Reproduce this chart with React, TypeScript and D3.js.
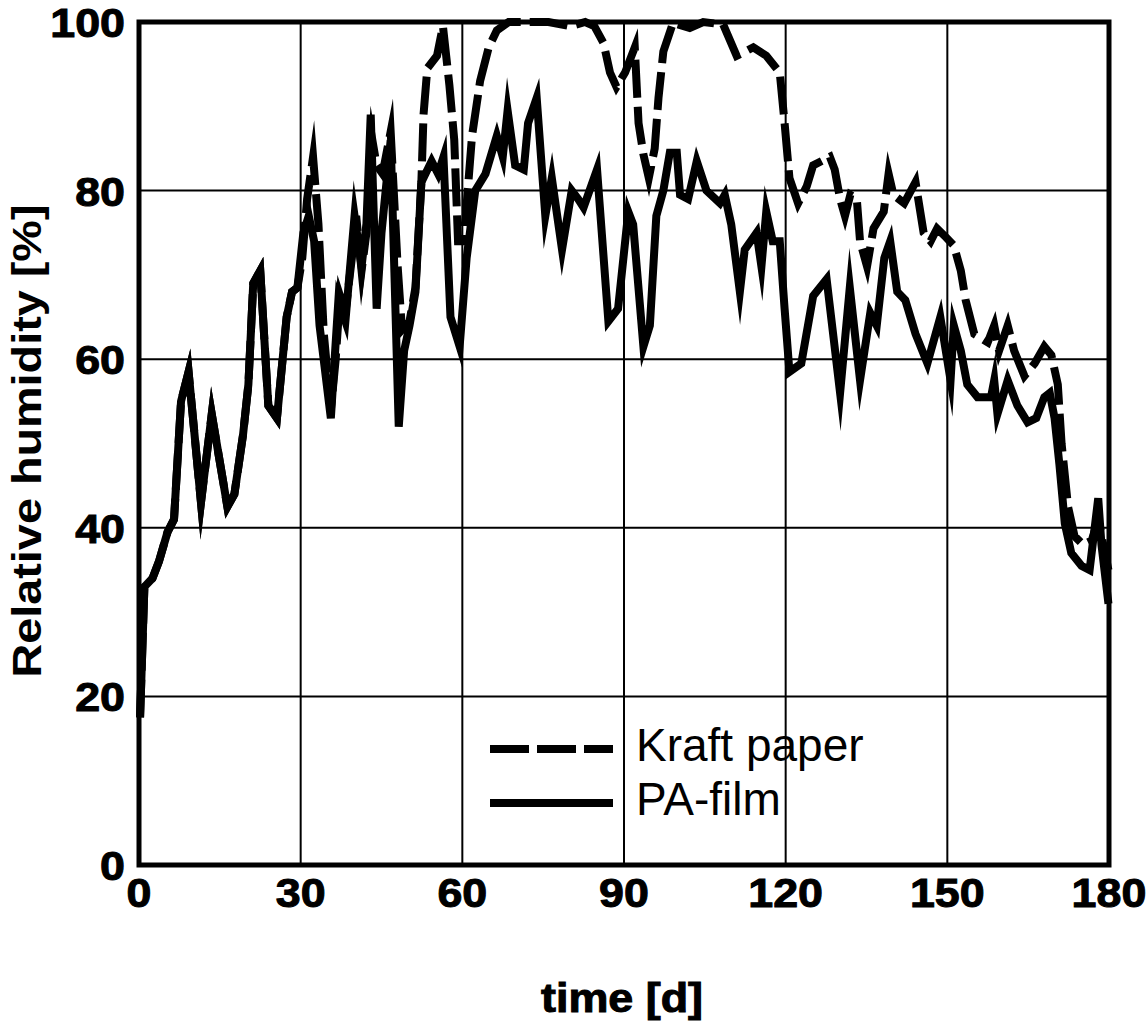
import React from 'react';
import * as d3 from 'd3';

// tick values
const xTicks = [0, 30, 60, 90, 120, 150, 180];
const yTicks = [0, 20, 40, 60, 80, 100];

// PA-film (solid)
const paDays = [
  0.2, 1, 2.5, 3.7, 5.3, 6.5, 7.8, 9.2, 11.5, 13.5, 16.4, 17.7, 19.3, 20.3, 21.2, 22.5, 24, 25.6, 27.4, 28.4,
  29.4, 30.5, 31.5, 32.5, 33.5, 35.6, 37, 38.3, 40, 41.3, 42.2, 43, 44.1, 45, 46.7, 48.2, 49.2, 50.2, 51.3, 52.4,
  54.3, 55.5, 56.5, 57.8, 59.5, 60.8, 62.4, 64.3, 66.4, 67.5, 68.4, 69.8, 71.4, 72.2, 73.8, 75.4, 76.6, 78.5, 80.3, 81.5,
  82.5, 85, 87.1, 88.9, 90.8, 91.7, 93.6, 94.8, 96, 97.3, 98.5, 99.8, 100.4, 101.9, 103.5, 105.3, 107.8, 108.7, 109.9, 111.5,
  112.4, 114.6, 115.5, 116.4, 117.6, 118.9, 119.8, 120.7, 122.9, 125.1, 127.6, 130.1, 131.9, 133.8, 135.7, 136.9, 138.3, 139.4, 140.7, 142.2,
  144.1, 146.3, 148.7, 150.6, 151.2, 152.5, 153.7, 155.6, 158.1, 158.7, 159.3, 161.2, 163, 164.9, 166.5, 168, 169, 169.9, 170.8, 171.8,
  173, 174.9, 176.4, 178, 178.6, 179.9
];
const paValues = [
  17.5, 33, 34, 36, 39.5, 41, 55, 58.5, 43, 53.5, 42.5, 44, 51, 57, 69, 70.5, 54.5, 53, 65, 68,
  68.5, 75, 77, 74, 64, 53, 67, 64.5, 77, 71, 76, 89, 66, 75, 86, 52, 61, 64, 68, 81,
  83.5, 82, 84, 65, 61.5, 72, 80, 82, 86.5, 84, 89.5, 83, 82.5, 88, 91, 77, 81.5, 73, 80, 79,
  78, 82.5, 64.5, 66, 77.5, 76, 61.5, 64, 77, 80, 84.5, 84.5, 79.5, 79, 83.5, 80, 78.5, 79.5, 76, 68,
  73, 75, 71, 77.5, 74, 74, 66, 58.5, 59.5, 67.5, 69.5, 56, 68.5, 57.5, 65.5, 64, 72, 74, 68, 67,
  63, 59.5, 65, 57.5, 64, 61, 57, 55.5, 55.5, 57.5, 53.5, 57.5, 54.5, 52.5, 53, 55.5, 56, 53, 47.5, 40.5,
  37, 35.5, 35, 43.5, 38, 31
];

// Kraft paper (dashed)
const kraftDays = [
  0.2, 1, 2.5, 3.7, 5.3, 6.5, 7.8, 9.2, 11.5, 13.5, 16.4, 17.7, 19.3, 20.3, 21.2, 22.5, 24, 25.6, 27.4, 28.4,
  29.4, 30.3, 31.2, 32.3, 33.3, 34.3, 35.6, 36.5, 37.3, 38.3, 39.5, 40.3, 41.3, 42.2, 43.3, 44.1, 45.2, 46.7, 48, 48.8,
  50.2, 51.3, 52.4, 52.8, 53.5, 55.3, 56.4, 57.6, 58.5, 59.2, 60.3, 61, 61.8, 63.3, 64.9, 66.4, 68.6, 72, 76, 80,
  82.8, 84.5, 86.2, 87.4, 88.6, 90.2, 92, 92.7, 93.6, 94.6, 95.7, 96.4, 97.3, 99.1, 102.2, 104.7, 108.4, 110.9, 112.5, 114,
  116.4, 118.9, 119.8, 120.7, 122.3, 123.9, 125.1, 128.2, 129.1, 130.1, 131, 132, 133.2, 133.8, 135.1, 136.3, 138.2, 139.1, 140, 142,
  144.1, 145.6, 146.9, 148.1, 149.7, 151.2, 152.5, 153.4, 155, 157.5, 158.7, 159.6, 161.2, 162.4, 164.3, 166.2, 168, 169.3, 170.5, 171.2,
  172.4, 173.6, 175.2, 176.8, 178, 179.9
];
const kraftValues = [
  17.5, 33, 34, 36, 39.5, 41, 55, 58.5, 43, 53.5, 42.5, 44, 51, 57, 69, 70.5, 54.5, 53, 65, 68,
  68.5, 72, 79, 84, 76, 63, 54, 60, 67.5, 65.5, 72, 77, 70.5, 75, 86, 83, 82, 87, 71, 63.5,
  64.5, 68.5, 81, 89, 94.5, 96, 99.5, 92.5, 86, 74, 74, 80, 86.5, 93, 97, 99, 100, 100, 100, 99.5,
  100, 99.5, 97.5, 94, 92.3, 94, 97, 88, 84.3, 81.5, 85, 91, 96.5, 99.9, 99.3, 100, 99.7, 96, 96.5, 97,
  96, 94, 88, 81.5, 78.5, 80.5, 83, 84, 82.5, 79, 77, 79.5, 79, 74, 71, 75.5, 77.5, 82, 79.5, 78.5,
  81, 75, 74, 75.5, 74.5, 73.5, 70.5, 67, 63, 62, 64, 61, 64, 61, 58, 59.5, 61.5, 60.5, 57, 50,
  42.5, 39, 38, 38.5, 41, 35
];

const W = 1146;
const H = 1030;
const plot = { left: 139, right: 1109, top: 22, bottom: 865 };

export default function App() {
  const x = d3.scaleLinear().domain([0, 180]).range([plot.left, plot.right]);
  const y = d3.scaleLinear().domain([0, 100]).range([plot.bottom, plot.top]);

  const line = d3.line<[number, number]>()
    .x(d => x(d[0]))
    .y(d => y(d[1]));

  const paPath = line(paDays.map((d, i) => [d, paValues[i]] as [number, number])) || '';
  const kraftPath = line(kraftDays.map((d, i) => [d, kraftValues[i]] as [number, number])) || '';

  const tickFont = { fontFamily: 'Liberation Sans, Arial, sans-serif', fontWeight: 700, fontSize: 40 };

  return (
    <svg width={W} height={H} style={{ position: 'absolute', left: 0, top: 0, background: '#fff' }}>
      {/* grid */}
      {xTicks.slice(1, -1).map(t => (
        <line key={'gx' + t} x1={x(t)} x2={x(t)} y1={plot.top} y2={plot.bottom} stroke="#000" strokeWidth={2} />
      ))}
      {yTicks.slice(1, -1).map(t => (
        <line key={'gy' + t} x1={plot.left} x2={plot.right} y1={y(t)} y2={y(t)} stroke="#000" strokeWidth={2} />
      ))}

      {/* frame */}
      <rect x={plot.left} y={plot.top} width={plot.right - plot.left} height={plot.bottom - plot.top}
        fill="none" stroke="#000" strokeWidth={5} />

      {/* data */}
      <path d={paPath} fill="none" stroke="#000" strokeWidth={8} strokeLinejoin="miter" strokeMiterlimit={10} />
      <path d={kraftPath} fill="none" stroke="#000" strokeWidth={8} strokeDasharray="38,9"
        strokeLinejoin="miter" strokeMiterlimit={10} />

      {/* y tick labels */}
      {yTicks.map(t => (
        <text key={'yl' + t} x={125} y={y(t) + 15} textAnchor="end" {...tickFont}
          stroke="#000" strokeWidth={1} transform={`translate(125,0) scale(1.12,1) translate(-125,0)`}>
          {t}
        </text>
      ))}

      {/* x tick labels */}
      {xTicks.map(t => (
        <text key={'xl' + t} x={x(t)} y={907} textAnchor="middle" {...tickFont}
          stroke="#000" strokeWidth={1} transform={`translate(${x(t)},0) scale(1.12,1) translate(${-x(t)},0)`}>
          {t}
        </text>
      ))}

      {/* axis titles */}
      <text x={622} y={1012} textAnchor="middle" {...tickFont} fontSize={40} stroke="#000" strokeWidth={1}
        textLength={162} lengthAdjust="spacingAndGlyphs">
        time [d]
      </text>
      <text transform="translate(41,441) rotate(-90)" textAnchor="middle"
        fontFamily="Liberation Sans, Arial, sans-serif" fontWeight={700} fontSize={40}
        textLength={473} lengthAdjust="spacingAndGlyphs">
        Relative humidity [%]
      </text>

      {/* legend */}
      <line x1={490} x2={613} y1={749} y2={749} stroke="#000" strokeWidth={8} strokeDasharray="39,8" />
      <line x1={490} x2={613} y1={803} y2={803} stroke="#000" strokeWidth={8} />
      <text x={636} y={761} fontFamily="Liberation Sans, Arial, sans-serif" fontSize={46}>Kraft paper</text>
      <text x={636} y={815} fontFamily="Liberation Sans, Arial, sans-serif" fontSize={46}>PA-film</text>
    </svg>
  );
}
